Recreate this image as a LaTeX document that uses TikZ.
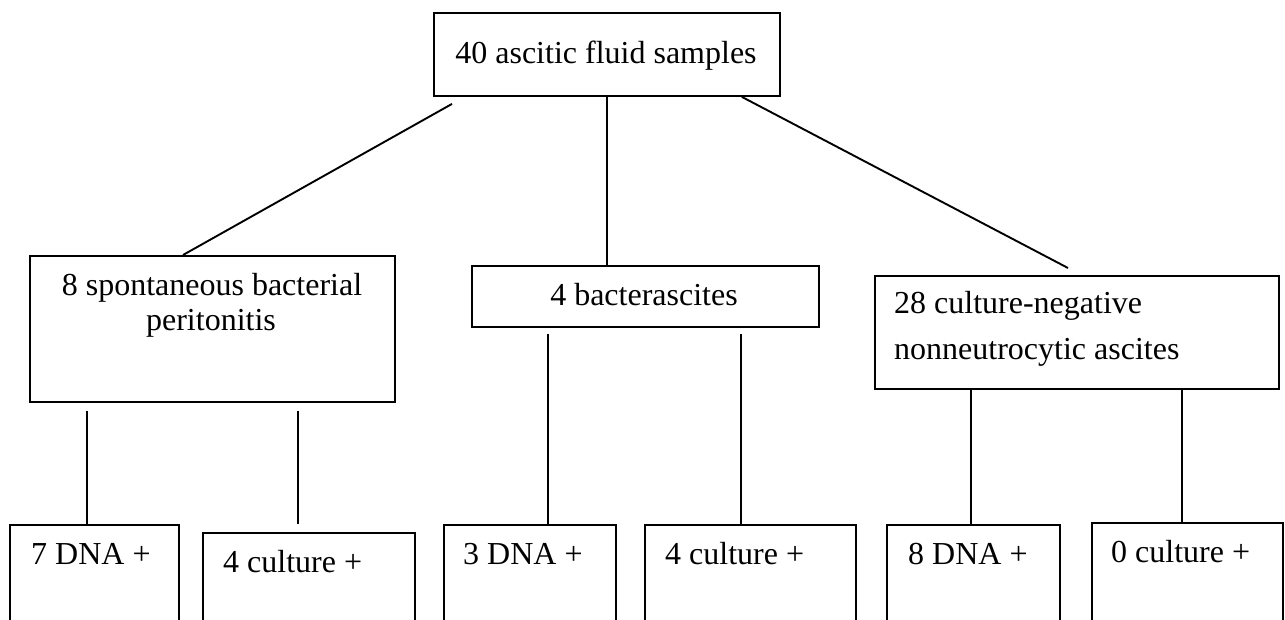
\documentclass[tikz,border=0pt]{standalone}
\usepackage{fontspec}
\setmainfont{Liberation Serif}
\usetikzlibrary{calc}
\begin{document}
\begin{tikzpicture}[x=1pt,y=-1pt,
  box/.style={draw,line width=1.9pt,inner sep=0pt,anchor=north west},
  lbl/.style={anchor=base west,inner sep=0pt,font=\fontsize{32}{38}\selectfont},
  lblc/.style={anchor=base,inner sep=0pt,font=\fontsize{32}{38}\selectfont},
  conn/.style={line width=1.9pt}]
\useasboundingbox (0,0) rectangle (1285,619);
\clip (0,0) rectangle (1285,619);
\fill[white] (0,0) rectangle (1285,619);
% boxes
\node[box,minimum width=346pt,minimum height=83pt] (top) at (433,12) {};
\node[box,minimum width=365pt,minimum height=146pt] (sbp) at (29,255) {};
\node[box,minimum width=347pt,minimum height=61pt] (bac) at (471,265) {};
\node[box,minimum width=404pt,minimum height=113pt] (cnna) at (874,275) {};
\node[box,minimum width=169pt,minimum height=200pt] (b1) at (9,524) {};
\node[box,minimum width=212pt,minimum height=200pt] (b2) at (202,532) {};
\node[box,minimum width=172pt,minimum height=200pt] (b3) at (443,524) {};
\node[box,minimum width=211pt,minimum height=200pt] (b4) at (644,524) {};
\node[box,minimum width=173pt,minimum height=200pt] (b5) at (886,524) {};
\node[box,minimum width=191pt,minimum height=200pt] (b6) at (1091,522) {};
% texts
\node[lblc] (ttop) at (606,63) {40 ascitic fluid samples};
\node[lblc] (tsbp1) at (212,295) {8 spontaneous bacterial};
\node[lblc] (tsbp2) at (211,330) {peritonitis};
\node[lblc] (tbac) at (644,305) {4 bacterascites};
\node[lbl] (tcn1) at (894,313) {28 culture-negative};
\node[lbl] (tcn2) at (894,359) {nonneutrocytic ascites};
\node[lbl] (tb1) at (31,564) {7 DNA +};
\node[lbl] (tb2) at (223,572) {4 culture +};
\node[lbl] (tb3) at (463,564) {3 DNA +};
\node[lbl] (tb4) at (665,564) {4 culture +};
\node[lbl] (tb5) at (908,564) {8 DNA +};
\node[lbl] (tb6) at (1111,562) {0 culture +};
% connectors
\coordinate (s1) at ($(top.south west)+(19,7)$);
\coordinate (e1) at ($(sbp.north west)+(154,0)$);
\draw[conn] (s1) -- (e1);
\draw[conn] (top.south) -- (top.south |- bac.north);
\coordinate (s3) at ($(top.south east)+(-39,0)$);
\coordinate (e3) at ($(cnna.north west)+(194,-7)$);
\draw[conn] (s3) -- (e3);
\coordinate (c1) at ($(sbp.south west)+(58,8)$);
\draw[conn] (c1) -- (c1 |- b1.north);
\coordinate (c2) at ($(sbp.south west)+(269,8)$);
\coordinate (c2e) at ($(b2.north)+(0,-8)$);
\draw[conn] (c2) -- (c2 |- c2e);
\coordinate (c3) at ($(bac.south west)+(77,6)$);
\draw[conn] (c3) -- (c3 |- b3.north);
\coordinate (c4) at ($(bac.south west)+(270,6)$);
\draw[conn] (c4) -- (c4 |- b4.north);
\coordinate (c5) at ($(cnna.south west)+(97,0)$);
\draw[conn] (c5) -- (c5 |- b5.north);
\coordinate (c6) at ($(cnna.south west)+(308,0)$);
\coordinate (c6e) at ($(b6.north)+(0,2)$);
\draw[conn] (c6) -- (c6 |- c6e);
\end{tikzpicture}
\end{document}
